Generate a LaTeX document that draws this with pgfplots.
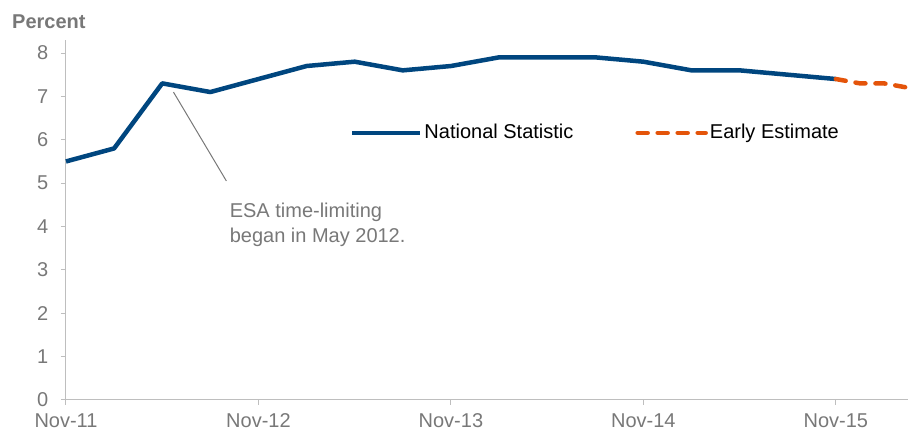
\documentclass[border=0pt]{standalone}
\usepackage{pgfplots}
\pgfplotsset{compat=1.18}
\usepackage{fontspec}
\setmainfont{Liberation Sans}
\definecolor{nsblue}{RGB}{0,70,127}
\definecolor{eeorange}{RGB}{228,84,10}
\definecolor{txtgray}{RGB}{120,120,120}
\definecolor{axgray}{RGB}{190,190,190}
\begin{document}
\fontsize{20pt}{24pt}\selectfont
\begin{tikzpicture}
  \begin{axis}[
    scale only axis,
    width=842pt, height=360pt,
    xmin=0, xmax=52.5,
    ymin=0, ymax=8.3,
    axis x line*=bottom,
    axis y line*=left,
    axis line style={axgray, line width=1pt},
    tick style={axgray, line width=1pt},
    xtick={0,12,24,36,48},
    xticklabels={Nov-11,Nov-12,Nov-13,Nov-14,Nov-15},
    ytick={0,1,...,8},
    tick align=outside,
    major tick length=5pt,
    ticklabel style={font=\fontsize{20pt}{24pt}\selectfont, text=txtgray},
    /pgf/number format/assume math mode=true,
    xticklabel style={yshift=-2pt},
    yticklabel style={xshift=-6pt},
    legend columns=2,
    legend style={draw=none, fill=none, at={(rel axis cs:0.337,0.742)}, anchor=west,
      font=\fontsize{20pt}{24pt}\selectfont, inner sep=0pt,
      /tikz/every even column/.append style={column sep=60pt}},
    legend cell align=left,
    legend image code/.code={\draw[#1] (0pt,0pt) -- (68pt,0pt);},
    clip=false,
  ]
  \addplot[nsblue, line width=4.5pt, line join=round] coordinates {
    (0,5.5) (3,5.8) (6,7.3) (9,7.1) (12,7.4) (15,7.7) (18,7.8) (21,7.6)
    (24,7.7) (27,7.9) (30,7.9) (33,7.9) (36,7.8) (39,7.6) (42,7.6) (45,7.5) (48,7.4)
  };
  \addlegendentry{National Statistic}
  \addplot[eeorange, line width=4.5pt, dash pattern=on 10pt off 10pt, line cap=round] coordinates {
    (48,7.4) (49.5,7.3) (51,7.3) (52.5,7.2)
  };
  \addlegendentry{Early Estimate}
  \draw[txtgray, line width=1pt] (axis cs:6.7,7.1) -- (axis cs:10,5.05);
  \node[anchor=north west, align=left, text=txtgray, inner sep=0pt,
        font=\fontsize{20pt}{25pt}\selectfont] at (axis cs:10.2,4.55)
        {ESA time-limiting\\began in May 2012.};
  \node[anchor=west, text=txtgray, inner sep=0pt, font=\fontsize{20pt}{24pt}\selectfont\bfseries]
        at ([xshift=-54pt,yshift=18pt]rel axis cs:0,1) {Percent};
  \coordinate (bl) at (rel axis cs:0,0);
  \coordinate (tr) at (rel axis cs:1,1);
  \end{axis}
  \pgfresetboundingbox
  \path[use as bounding box] ([xshift=-66pt,yshift=-36pt]bl) rectangle ([yshift=40pt]tr);
\end{tikzpicture}
\end{document}
